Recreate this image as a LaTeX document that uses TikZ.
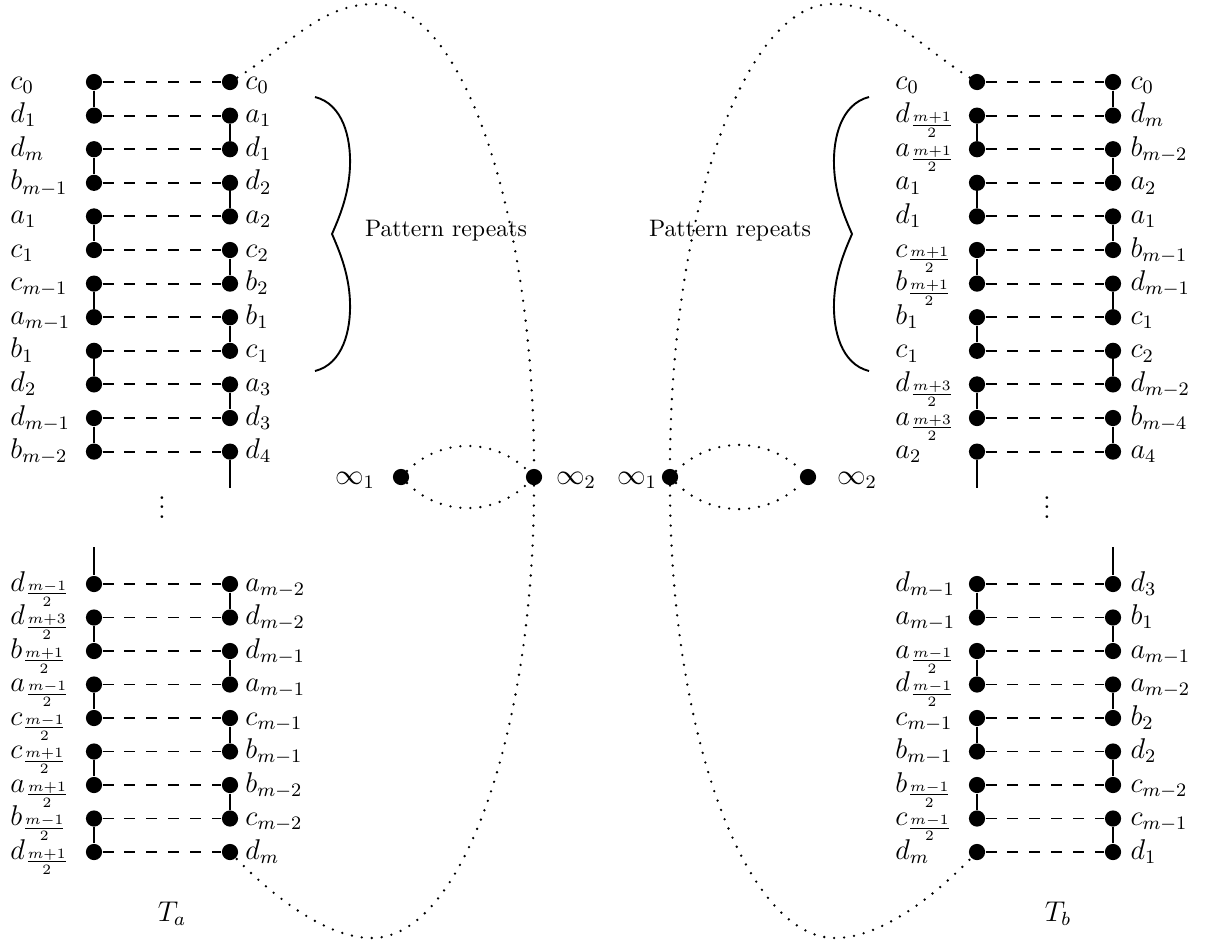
\documentclass[tikz,border=0pt]{standalone}
\tikzset{
  vertex/.style = {circle, fill=black, inner sep=0pt, minimum size=6.8pt},
  match/.style = {line width=0.8pt, dash pattern=on 4.6pt off 4.6pt},
  tie/.style = {line width=0.5pt},
  ring/.style = {line width=1.1pt, line cap=round, dash pattern=on 0pt off 4.2pt},
  curly/.style = {line width=0.8pt},
  lab/.style = {font=\large, inner sep=0pt, anchor=base west}
}
\newcommand{\half}[1]{\frac{#1}{2}}
\begin{document}
\begin{tikzpicture}[x=0.42pt, y=-0.42pt]
\useasboundingbox (0,0) rectangle (1213,944);

% tree T_a, upper rows
\foreach \i/\p/\q in {0/c_0/c_0, 1/d_1/a_1, 2/d_m/d_1, 3/b_{m-1}/d_2, 4/a_1/a_2, 5/c_1/c_2,
    6/c_{m-1}/b_2, 7/a_{m-1}/b_1, 8/b_1/c_1, 9/d_2/a_3, 10/d_{m-1}/d_3, 11/b_{m-2}/d_4} {
  \node[vertex] (al\i) at (94, 82+33.6*\i) {};
  \node[vertex] (ar\i) at (230, 82+33.6*\i) {};
  \node[lab] (alt\i) at (10, 89+33.6*\i) {$\p$};
  \node[lab] (art\i) at (245, 89+33.6*\i) {$\q$};
  \draw[match] (al\i) -- (ar\i);
}
\foreach \i/\j in {0/1, 2/3, 4/5, 6/7, 8/9, 10/11} \draw[tie] (al\i) -- (al\j);
\foreach \i/\j in {1/2, 3/4, 5/6, 7/8, 9/10} \draw[tie] (ar\i) -- (ar\j);
\coordinate (arend) at (230, 488);
\draw[tie] (ar11) -- (arend);
\node[font=\large] (adots) at (162, 500) {$\vdots$};

% tree T_a, lower rows
\foreach \i/\p/\q in {0/d_{\half{m-1}}/a_{m-2}, 1/d_{\half{m+3}}/d_{m-2}, 2/b_{\half{m+1}}/d_{m-1},
    3/a_{\half{m-1}}/a_{m-1}, 4/c_{\half{m-1}}/c_{m-1}, 5/c_{\half{m+1}}/b_{m-1},
    6/a_{\half{m+1}}/b_{m-2}, 7/b_{\half{m-1}}/c_{m-2}, 8/d_{\half{m+1}}/d_m} {
  \node[vertex] (alb\i) at (94, 584+33.5*\i) {};
  \node[vertex] (arb\i) at (230, 584+33.5*\i) {};
  \node[lab] (albt\i) at (10, 591+33.5*\i) {$\p$};
  \node[lab] (arbt\i) at (245, 591+33.5*\i) {$\q$};
  \draw[match] (alb\i) -- (arb\i);
}
\coordinate (albstart) at (94, 547);
\draw[tie] (albstart) -- (alb0);
\foreach \i/\j in {1/2, 3/4, 5/6, 7/8} \draw[tie] (alb\i) -- (alb\j);
\foreach \i/\j in {0/1, 2/3, 4/5, 6/7} \draw[tie] (arb\i) -- (arb\j);
\node[font=\large] (tа) at (172, 914) {$T_a$};

% tree T_b, upper rows
\foreach \i/\p/\q in {0/c_0/c_0, 1/d_{\half{m+1}}/d_m, 2/a_{\half{m+1}}/b_{m-2}, 3/a_1/a_2,
    4/d_1/a_1, 5/c_{\half{m+1}}/b_{m-1}, 6/b_{\half{m+1}}/d_{m-1}, 7/b_1/c_1, 8/c_1/c_2,
    9/d_{\half{m+3}}/d_{m-2}, 10/a_{\half{m+3}}/b_{m-4}, 11/a_2/a_4} {
  \node[vertex] (bl\i) at (977, 82+33.6*\i) {};
  \node[vertex] (br\i) at (1113, 82+33.6*\i) {};
  \node[lab] (blt\i) at (895, 89+33.6*\i) {$\p$};
  \node[lab] (brt\i) at (1130, 89+33.6*\i) {$\q$};
  \draw[match] (bl\i) -- (br\i);
}
\foreach \i/\j in {1/2, 3/4, 5/6, 7/8, 9/10} \draw[tie] (bl\i) -- (bl\j);
\foreach \i/\j in {0/1, 2/3, 4/5, 6/7, 8/9, 10/11} \draw[tie] (br\i) -- (br\j);
\coordinate (blend) at (977, 488);
\draw[tie] (bl11) -- (blend);
\node[font=\large] (bdots) at (1047, 500) {$\vdots$};

% tree T_b, lower rows
\foreach \i/\p/\q in {0/d_{m-1}/d_3, 1/a_{m-1}/b_1, 2/a_{\half{m-1}}/a_{m-1},
    3/d_{\half{m-1}}/a_{m-2}, 4/c_{m-1}/b_2, 5/b_{m-1}/d_2, 6/b_{\half{m-1}}/c_{m-2},
    7/c_{\half{m-1}}/c_{m-1}, 8/d_m/d_1} {
  \node[vertex] (blb\i) at (977, 584+33.5*\i) {};
  \node[vertex] (brb\i) at (1113, 584+33.5*\i) {};
  \node[lab] (blbt\i) at (895, 591+33.5*\i) {$\p$};
  \node[lab] (brbt\i) at (1130, 591+33.5*\i) {$\q$};
  \draw[match] (blb\i) -- (brb\i);
}
\coordinate (brbstart) at (1113, 547);
\draw[tie] (brbstart) -- (brb0);
\foreach \i/\j in {0/1, 2/3, 4/5, 6/7} \draw[tie] (blb\i) -- (blb\j);
\foreach \i/\j in {1/2, 3/4, 5/6, 7/8} \draw[tie] (brb\i) -- (brb\j);
\node[font=\large] (tb) at (1058, 914) {$T_b$};

% the two points at infinity
\node[vertex] (ainf1) at (401, 477) {};
\node[vertex] (ainf2) at (534, 477) {};
\node[vertex] (binf1) at (670, 477) {};
\node[vertex] (binf2) at (808, 477) {};
\node[font=\large, anchor=base] (ainf1t) at (355, 484) {$\infty_1$};
\node[font=\large, anchor=base] (ainf2t) at (576, 484) {$\infty_2$};
\node[font=\large, anchor=base] (binf1t) at (637, 484) {$\infty_1$};
\node[font=\large, anchor=base] (binf2t) at (857, 484) {$\infty_2$};
\draw[ring] (ainf1) to[bend left=45] (ainf2);
\draw[ring] (ainf1) to[bend right=45] (ainf2);
\draw[ring] (binf1) to[bend left=45] (binf2);
\draw[ring] (binf1) to[bend right=45] (binf2);

% big loops closing each tree
\coordinate (atop) at (375, 4);
\coordinate (abot) at (372, 938);
\coordinate (btop) at (832, 4);
\coordinate (bbot) at (835, 938);
\draw[ring] (ar0) .. controls (290, 45) and (320, 4) .. (atop)
  .. controls (463, 4) and (534, 216) .. (ainf2)
  .. controls (534, 731) and (462, 938) .. (abot)
  .. controls (320, 938) and (262, 885) .. (arb8);
\draw[ring] (bl0) .. controls (917, 45) and (887, 4) .. (btop)
  .. controls (744, 4) and (670, 216) .. (binf1)
  .. controls (670, 731) and (745, 938) .. (bbot)
  .. controls (887, 938) and (945, 885) .. (blb8);

% braces over the repeating block
\draw[curly] (315, 97) .. controls (343, 104) and (351, 138) .. (350, 166)
  .. controls (349, 196) and (338, 220) .. (332, 234)
  .. controls (338, 248) and (349, 272) .. (350, 302)
  .. controls (351, 330) and (343, 364) .. (315, 371);
\draw[curly] (869, 97) .. controls (841, 104) and (833, 138) .. (834, 166)
  .. controls (835, 196) and (846, 220) .. (852, 234)
  .. controls (846, 248) and (835, 272) .. (834, 302)
  .. controls (833, 330) and (841, 364) .. (869, 371);
\node (arep) at (446, 231) {Pattern repeats};
\node (brep) at (730, 231) {Pattern repeats};
\end{tikzpicture}
\end{document}
